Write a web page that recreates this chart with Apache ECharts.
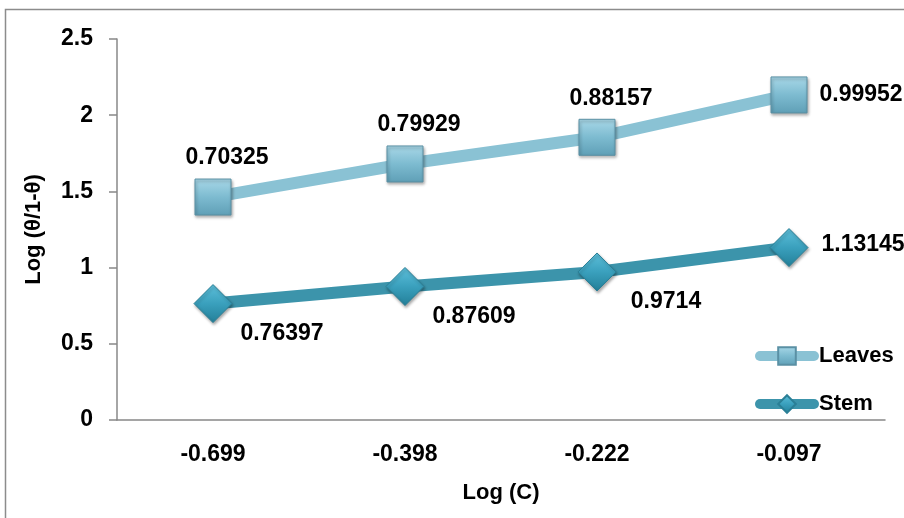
<!DOCTYPE html>
<html>
<head>
<meta charset="utf-8">
<script src="https://cdn.jsdelivr.net/npm/echarts@6/dist/echarts.min.js"></script>
<style>
html,body{margin:0;padding:0;background:#fff;}
#main{width:904px;height:518px;}
</style>
</head>
<body>
<div id="main"></div>
<script>
// ---- data ----
var categories = ['-0.699', '-0.398', '-0.222', '-0.097'];
var leavesValues = [1.463, 1.680, 1.855, 2.133];
var leavesLabels = ['0.70325', '0.79929', '0.88157', '0.99952'];
var stemValues = [0.76397, 0.87609, 0.9714, 1.13145];
var stemLabels = ['0.76397', '0.87609', '0.9714', '1.13145'];
var yTicks = { min: 0, max: 2.5, interval: 0.5 };

var FONT = '"Liberation Sans", Arial, sans-serif';
var chart = echarts.init(document.getElementById('main'));

function buildData(values, labels, normalLabel, lastLabel) {
  return values.map(function (v, i) {
    var lab = Object.assign({ show: true, formatter: labels[i] }, i === values.length - 1 ? lastLabel : normalLabel);
    return { value: v, label: lab };
  });
}

var labelText = { fontFamily: FONT, fontWeight: 'bold', fontSize: 23, color: '#000' };

var leavesItem = {
  color: new echarts.graphic.LinearGradient(0, 0, 0, 1, [
    { offset: 0, color: '#a9d8e8' },
    { offset: 0.5, color: '#7dbbd0' },
    { offset: 1, color: '#5f9fb6' }
  ]),
  borderColor: '#5a90a4',
  borderWidth: 1,
  shadowBlur: 3,
  shadowColor: 'rgba(0,0,0,0.35)',
  shadowOffsetX: 1,
  shadowOffsetY: 2
};
var stemItem = {
  color: new echarts.graphic.LinearGradient(0, 0, 0, 1, [
    { offset: 0, color: '#5ec0db' },
    { offset: 0.5, color: '#3aa0bd' },
    { offset: 1, color: '#237f98' }
  ]),
  borderColor: '#2a7f96',
  borderWidth: 1,
  shadowBlur: 3,
  shadowColor: 'rgba(0,0,0,0.35)',
  shadowOffsetX: 1,
  shadowOffsetY: 2
};

var option = {
  backgroundColor: '#fff',
  animation: false,
  graphic: [{
    type: 'polyline',
    shape: { points: [[5.5, 530], [5.5, 9.5], [920, 9.5]] },
    style: { stroke: '#8c8c8c', lineWidth: 1.5, fill: null },
    silent: true
  }],
  grid: { left: 117, right: 19, top: 39, bottom: 98, containLabel: false },
  legend: {
    orient: 'vertical',
    left: 750,
    top: 340,
    itemWidth: 54,
    itemHeight: 22,
    itemGap: 26,
    lineStyle: { width: 10, cap: 'round' },
    textStyle: { fontFamily: FONT, fontWeight: 'bold', fontSize: 22, color: '#000' },
    data: ['Leaves', 'Stem']
  },
  xAxis: {
    type: 'category',
    data: categories,
    boundaryGap: true,
    axisLine: { lineStyle: { color: '#888', width: 1.5 } },
    axisTick: { show: false },
    axisLabel: { fontFamily: FONT, fontWeight: 'bold', fontSize: 23, color: '#000', margin: 23 },
    name: 'Log (C)',
    nameLocation: 'middle',
    nameGap: 62,
    nameTextStyle: { fontFamily: FONT, fontWeight: 'bold', fontSize: 22, color: '#000' }
  },
  yAxis: {
    type: 'value',
    min: yTicks.min,
    max: yTicks.max,
    interval: yTicks.interval,
    axisLine: { show: true, lineStyle: { color: '#888', width: 1.5 } },
    axisTick: { show: true, length: 8, lineStyle: { color: '#888', width: 1.5 } },
    splitLine: { show: false },
    axisLabel: { fontFamily: FONT, fontWeight: 'bold', fontSize: 23, color: '#000', margin: 24 },
    name: 'Log (θ/1-θ)',
    nameLocation: 'middle',
    nameRotate: 90,
    nameGap: 72,
    nameTextStyle: { fontFamily: FONT, fontWeight: 'bold', fontSize: 22, color: '#000' }
  },
  series: [
    {
      name: 'Leaves',
      type: 'line',
      symbol: 'rect',
      symbolSize: 36,
      lineStyle: { color: '#8ac2d4', width: 12 },
      itemStyle: leavesItem,
      z: 3,
      data: buildData(leavesValues, leavesLabels,
        Object.assign({ position: 'top', distance: 5, offset: [14, -4] }, labelText),
        Object.assign({ position: 'right', distance: 5, offset: [7, 0] }, labelText))
    },
    {
      name: 'Stem',
      type: 'line',
      symbol: 'diamond',
      symbolSize: [38, 38],
      lineStyle: { color: '#3c94ab', width: 12 },
      itemStyle: stemItem,
      z: 3,
      data: buildData(stemValues, stemLabels,
        Object.assign({ position: 'bottom', distance: 5, offset: [69, -6] }, labelText),
        Object.assign({ position: 'right', distance: 5, offset: [8, -3] }, labelText))
    }
  ]
};
chart.setOption(option);
</script>
</body>
</html>
